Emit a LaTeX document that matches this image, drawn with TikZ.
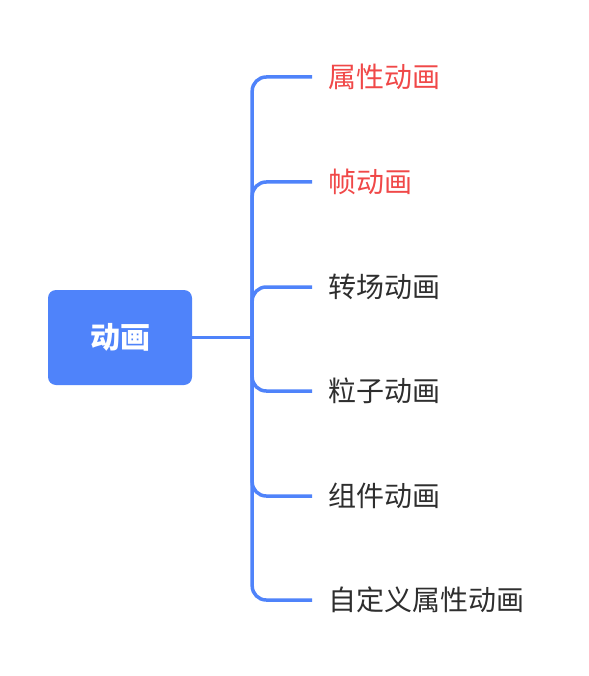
\documentclass[tikz,border=0pt]{standalone}
\usepackage{fontspec}
\newfontfamily\cjk{Noto Sans CJK SC}
\definecolor{lineblue}{HTML}{4F83FA}
\definecolor{hotred}{HTML}{F04848}
\definecolor{plaintext}{HTML}{2E2E2E}

\begin{document}
\begin{tikzpicture}[x=1pt,y=-1pt,
  root/.style={fill=lineblue, rounded corners=8pt, minimum width=144pt, minimum height=95pt,
    text=white, font=\cjk\bfseries\fontsize{30}{30}\selectfont},
  leaf/.style={anchor=west, inner sep=0pt, font=\cjk\fontsize{28}{28}\selectfont, text=plaintext},
  hot/.style={leaf, text=hotred},
  branch/.style={lineblue, line width=3.5pt, rounded corners=14pt}]
  \useasboundingbox (0,0) rectangle (588,676);

  \node[root] (anim) at (120,337.5) {动画};
  \coordinate (trunk) at ([xshift=60pt]anim.east);

  \node[hot]  (prop)   at (328,77)  {属性动画};
  \node[hot]  (frame)  at (328,182) {帧动画};
  \node[leaf] (trans)  at (328,287) {转场动画};
  \node[leaf] (part)   at (328,391) {粒子动画};
  \node[leaf] (comp)   at (328,496) {组件动画};
  \node[leaf] (custom) at (328,600) {自定义属性动画};

  % trunk and branches
  \draw[branch] (anim.east) -- (trunk);
  \draw[branch] (trunk) |- ([xshift=-16pt]prop.west);
  \draw[branch] (trunk) |- ([xshift=-16pt]frame.west);
  \draw[branch] (trunk) |- ([xshift=-16pt]trans.west);
  \draw[branch] (trunk) |- ([xshift=-16pt]part.west);
  \draw[branch] (trunk) |- ([xshift=-16pt]comp.west);
  \draw[branch] (trunk) |- ([xshift=-16pt]custom.west);
\end{tikzpicture}
\end{document}
